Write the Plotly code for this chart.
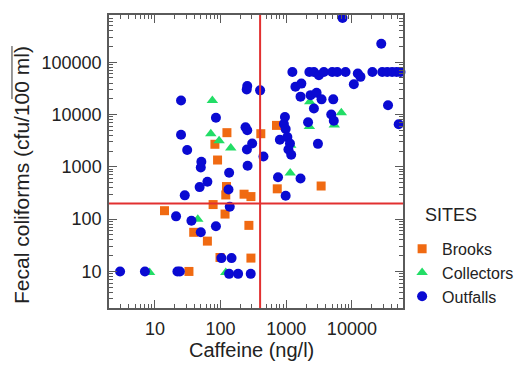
import plotly.graph_objects as go
import math

# ---------------- data ----------------
brooks_x = [14, 33, 39, 63, 77, 82, 90, 98, 117, 120, 123, 125, 228, 270, 290, 290, 410, 710, 730, 3400]
brooks_y = [145, 10, 56, 38, 190, 2700, 1350, 18.5, 125, 290, 420, 4500, 300, 76, 270, 18, 4300, 6200, 380, 430]

collectors_x = [8.3, 45, 71, 75, 95, 120, 143, 1150, 1170, 2250, 2280, 5400, 6900]
collectors_y = [9.5, 100, 4300, 18500, 3150, 9.5, 2300, 760, 2600, 5900, 17500, 6300, 10800]

outfalls_x = [2.95, 7.05, 20, 21, 22, 24, 28.5, 25, 25, 31, 36, 48, 50, 50, 51, 63, 85, 85, 103, 132,
              135, 135, 138, 147, 185, 240, 255, 252, 255, 250, 258, 288, 303, 400, 450,
              750, 980, 1650, 800, 920, 955, 980, 1040, 1140, 1080, 1190, 3040, 2150, 4850, 5300,
              2640, 35500, 51600, 1650, 2350, 2900, 3450, 5200, 1380, 1700, 10700, 28000, 7200,
              1240, 2250, 2640, 3140, 3740, 5020, 5980, 8000, 12300, 13500, 20500, 29000, 34500,
              41000, 48000, 55000]
outfalls_y = [10, 10, 2, 113, 10, 10, 285, 4100, 18500, 2100, 93, 410, 56, 970, 1250, 520, 73, 8700, 18, 370,
              9, 770, 172, 18, 9, 5700, 5000, 2150, 35000, 30000, 1050, 9, 2800, 29000, 1580,
              630, 280, 600, 3300, 6600, 9000, 5300, 3700, 2800, 2150, 1700, 2750, 7100, 10000, 7600,
              13000, 15000, 6500, 22000, 23500, 26000, 19500, 19500, 34000, 39000, 38000, 225000, 700000,
              65000, 65000, 65000, 56500, 65000, 65000, 65000, 65000, 61000, 52500, 65000, 65000, 65000,
              65000, 65000, 65000]

caffeine_threshold = 400
coliform_threshold = 200

x_tick_vals = [10, 100, 1000, 10000]
x_tick_text = ["10", "100", "1000", "10000"]
y_tick_vals = [10, 100, 1000, 10000, 100000]
y_tick_text = ["10", "100", "1000", "10000", "100000"]
x_range = [2, 60000]
y_range = [2, 800000]

# ---------------- figure ----------------
FONT = "Liberation Sans, Arial, sans-serif"
fig = go.Figure()

fig.add_trace(go.Scatter(x=brooks_x, y=brooks_y, mode="markers", name="Brooks",
                         marker=dict(symbol="square", size=9, color="#f06a12", line=dict(width=0)),
                         cliponaxis=False))
fig.add_trace(go.Scatter(x=collectors_x, y=collectors_y, mode="markers", name="Collectors",
                         marker=dict(symbol="triangle-up", size=10, color="#22dd66", line=dict(width=0)),
                         cliponaxis=False))
fig.add_trace(go.Scatter(x=outfalls_x, y=outfalls_y, mode="markers", name="Outfalls",
                         marker=dict(symbol="circle", size=10, color="#0a0ad2", line=dict(width=0)),
                         cliponaxis=False))

red = "#e23030"
fig.add_shape(type="line", xref="x", yref="paper", x0=caffeine_threshold, x1=caffeine_threshold,
              y0=0, y1=1, line=dict(color=red, width=2), layer="above")
fig.add_shape(type="line", xref="paper", yref="y", x0=0, x1=1, y0=coliform_threshold,
              y1=coliform_threshold, line=dict(color=red, width=2), layer="above")

minor_vals = [m * 10 ** e for e in range(0, 6) for m in range(2, 10)]

axis_common = dict(
    type="log", showgrid=False, zeroline=False, showline=True, linecolor="#5a5a5a", linewidth=1.5,
    mirror="allticks", ticks="inside", ticklen=8, tickwidth=1.2, tickcolor="#5a5a5a",
    tickfont=dict(family=FONT, size=18, color="#222"),
    minor=dict(ticks="inside", ticklen=4, tickwidth=1, tickcolor="#5a5a5a",
               tickmode="array", tickvals=minor_vals, showgrid=False),
)

fig.update_xaxes(**axis_common, tickmode="array", tickvals=x_tick_vals, ticktext=x_tick_text,
                 range=[math.log10(x_range[0]), math.log10(x_range[1])], ticklabelstandoff=4)
fig.update_yaxes(**axis_common, tickmode="array", tickvals=y_tick_vals, ticktext=y_tick_text,
                 range=[math.log10(y_range[0]), math.log10(y_range[1])], ticklabelstandoff=2)

fig.add_annotation(text="Caffeine (ng/l)", xref="paper", yref="paper", x=0.486, y=-0.143,
                   xanchor="center", yanchor="middle", showarrow=False,
                   font=dict(family=FONT, size=20, color="#222"))
fig.add_annotation(text="Fecal coliforms (cfu/100 ml)", xref="paper", yref="paper", x=-0.296, y=0.454,
                   xanchor="center", yanchor="middle", textangle=-90, showarrow=False,
                   font=dict(family=FONT, size=21, color="#222"))
fig.add_annotation(text="SITES", xref="paper", yref="paper", x=1.068, y=0.317,
                   xanchor="left", yanchor="middle", showarrow=False,
                   font=dict(family=FONT, size=18, color="#222"))
# small overline above part of the y-axis title (as in the source figure)
fig.add_shape(type="line", xref="paper", yref="paper", x0=-0.33, x1=-0.33, y0=0.713, y1=0.894,
              line=dict(color="#333", width=1))

fig.update_layout(
    width=522, height=365,
    margin=dict(l=109, r=119, t=15, b=57, autoexpand=False),
    paper_bgcolor="white", plot_bgcolor="white",
    font=dict(family=FONT, color="#222"),
    showlegend=True,
    legend=dict(x=0.997, y=0.26, xanchor="left", yanchor="top", bgcolor="rgba(0,0,0,0)",
                font=dict(family=FONT, size=16, color="#222"), tracegroupgap=0, itemwidth=30),
)

fig.write_html("out.html")
